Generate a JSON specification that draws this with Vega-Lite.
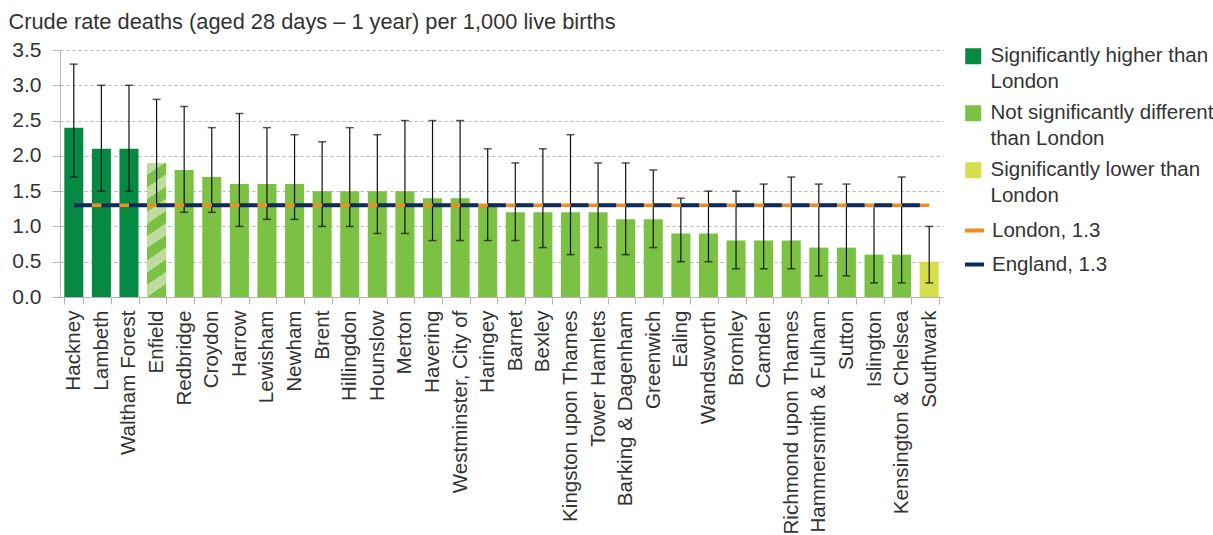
{
  "$schema": "https://vega.github.io/schema/vega-lite/v6.json",
  "width": 883,
  "height": 247,
  "autosize": {"type": "none"},
  "padding": {"left": 60, "top": 50, "right": 270, "bottom": 238},
  "background": "white",
  "config": {
    "font": "Liberation Sans",
    "view": {"stroke": null},
    "style": {"guide-label": {"lineHeight": 25.5}}
  },
  "data": {
    "values": [
      {"borough": "Hackney", "rate": 2.4, "lo": 1.7, "hi": 3.3, "sig": "Significantly higher than London", "hatched": false, "london": 1.3, "england": 1.3},
      {"borough": "Lambeth", "rate": 2.1, "lo": 1.5, "hi": 3.0, "sig": "Significantly higher than London", "hatched": false, "london": 1.3, "england": 1.3},
      {"borough": "Waltham Forest", "rate": 2.1, "lo": 1.5, "hi": 3.0, "sig": "Significantly higher than London", "hatched": false, "london": 1.3, "england": 1.3},
      {"borough": "Enfield", "rate": 1.9, "lo": 1.3, "hi": 2.8, "sig": "Not significantly different than London", "hatched": true, "london": 1.3, "england": 1.3},
      {"borough": "Redbridge", "rate": 1.8, "lo": 1.2, "hi": 2.7, "sig": "Not significantly different than London", "hatched": false, "london": 1.3, "england": 1.3},
      {"borough": "Croydon", "rate": 1.7, "lo": 1.2, "hi": 2.4, "sig": "Not significantly different than London", "hatched": false, "london": 1.3, "england": 1.3},
      {"borough": "Harrow", "rate": 1.6, "lo": 1.0, "hi": 2.6, "sig": "Not significantly different than London", "hatched": false, "london": 1.3, "england": 1.3},
      {"borough": "Lewisham", "rate": 1.6, "lo": 1.1, "hi": 2.4, "sig": "Not significantly different than London", "hatched": false, "london": 1.3, "england": 1.3},
      {"borough": "Newham", "rate": 1.6, "lo": 1.1, "hi": 2.3, "sig": "Not significantly different than London", "hatched": false, "london": 1.3, "england": 1.3},
      {"borough": "Brent", "rate": 1.5, "lo": 1.0, "hi": 2.2, "sig": "Not significantly different than London", "hatched": false, "london": 1.3, "england": 1.3},
      {"borough": "Hillingdon", "rate": 1.5, "lo": 1.0, "hi": 2.4, "sig": "Not significantly different than London", "hatched": false, "london": 1.3, "england": 1.3},
      {"borough": "Hounslow", "rate": 1.5, "lo": 0.9, "hi": 2.3, "sig": "Not significantly different than London", "hatched": false, "london": 1.3, "england": 1.3},
      {"borough": "Merton", "rate": 1.5, "lo": 0.9, "hi": 2.5, "sig": "Not significantly different than London", "hatched": false, "london": 1.3, "england": 1.3},
      {"borough": "Havering", "rate": 1.4, "lo": 0.8, "hi": 2.5, "sig": "Not significantly different than London", "hatched": false, "london": 1.3, "england": 1.3},
      {"borough": "Westminster, City of", "rate": 1.4, "lo": 0.8, "hi": 2.5, "sig": "Not significantly different than London", "hatched": false, "london": 1.3, "england": 1.3},
      {"borough": "Haringey", "rate": 1.3, "lo": 0.8, "hi": 2.1, "sig": "Not significantly different than London", "hatched": false, "london": 1.3, "england": 1.3},
      {"borough": "Barnet", "rate": 1.2, "lo": 0.8, "hi": 1.9, "sig": "Not significantly different than London", "hatched": false, "london": 1.3, "england": 1.3},
      {"borough": "Bexley", "rate": 1.2, "lo": 0.7, "hi": 2.1, "sig": "Not significantly different than London", "hatched": false, "london": 1.3, "england": 1.3},
      {"borough": "Kingston upon Thames", "rate": 1.2, "lo": 0.6, "hi": 2.3, "sig": "Not significantly different than London", "hatched": false, "london": 1.3, "england": 1.3},
      {"borough": "Tower Hamlets", "rate": 1.2, "lo": 0.7, "hi": 1.9, "sig": "Not significantly different than London", "hatched": false, "london": 1.3, "england": 1.3},
      {"borough": "Barking & Dagenham", "rate": 1.1, "lo": 0.6, "hi": 1.9, "sig": "Not significantly different than London", "hatched": false, "london": 1.3, "england": 1.3},
      {"borough": "Greenwich", "rate": 1.1, "lo": 0.7, "hi": 1.8, "sig": "Not significantly different than London", "hatched": false, "london": 1.3, "england": 1.3},
      {"borough": "Ealing", "rate": 0.9, "lo": 0.5, "hi": 1.4, "sig": "Not significantly different than London", "hatched": false, "london": 1.3, "england": 1.3},
      {"borough": "Wandsworth", "rate": 0.9, "lo": 0.5, "hi": 1.5, "sig": "Not significantly different than London", "hatched": false, "london": 1.3, "england": 1.3},
      {"borough": "Bromley", "rate": 0.8, "lo": 0.4, "hi": 1.5, "sig": "Not significantly different than London", "hatched": false, "london": 1.3, "england": 1.3},
      {"borough": "Camden", "rate": 0.8, "lo": 0.4, "hi": 1.6, "sig": "Not significantly different than London", "hatched": false, "london": 1.3, "england": 1.3},
      {"borough": "Richmond upon Thames", "rate": 0.8, "lo": 0.4, "hi": 1.7, "sig": "Not significantly different than London", "hatched": false, "london": 1.3, "england": 1.3},
      {"borough": "Hammersmith & Fulham", "rate": 0.7, "lo": 0.3, "hi": 1.6, "sig": "Not significantly different than London", "hatched": false, "london": 1.3, "england": 1.3},
      {"borough": "Sutton", "rate": 0.7, "lo": 0.3, "hi": 1.6, "sig": "Not significantly different than London", "hatched": false, "london": 1.3, "england": 1.3},
      {"borough": "Islington", "rate": 0.6, "lo": 0.2, "hi": 1.3, "sig": "Not significantly different than London", "hatched": false, "london": 1.3, "england": 1.3},
      {"borough": "Kensington & Chelsea", "rate": 0.6, "lo": 0.2, "hi": 1.7, "sig": "Not significantly different than London", "hatched": false, "london": 1.3, "england": 1.3},
      {"borough": "Southwark", "rate": 0.5, "lo": 0.2, "hi": 1.0, "sig": "Significantly lower than London", "hatched": false, "london": 1.3, "england": 1.3}
    ]
  },
  "encoding": {
    "x": {
      "field": "borough",
      "type": "nominal",
      "sort": null,
      "scale": {"paddingInner": 0.31, "paddingOuter": 0.155},
      "axis": {
        "title": null,
        "labelAngle": -90,
        "labelFontSize": 20.6,
        "labelColor": "#333333",
        "labelPadding": 6,
        "labelLimit": 0,
        "tickBand": "extent",
        "tickSize": 7,
        "tickColor": "#b5b5b5",
        "domainColor": "#b5b5b5",
        "grid": false
      }
    }
  },
  "layer": [
    {
      "mark": {"type": "bar"},
      "encoding": {
        "y": {
          "field": "rate",
          "type": "quantitative",
          "scale": {"domain": [0, 3.5], "nice": false},
          "axis": {
            "title": "Crude rate deaths (aged 28 days – 1 year) per 1,000 live births",
            "titleAngle": 0,
            "titleAlign": "left",
            "titleBaseline": "alphabetic",
            "titleX": -52,
            "titleY": -22,
            "titleFontSize": 21.8,
            "titleFontWeight": "normal",
            "titleColor": "#333333",
            "values": [0, 0.5, 1, 1.5, 2, 2.5, 3, 3.5],
            "tickCount": 8,
            "labelOverlap": false,
            "format": ".1f",
            "labelFontSize": 21,
            "labelColor": "#333333",
            "labelPadding": 11,
            "tickSize": 8,
            "tickColor": "#b5b5b5",
            "domainColor": "#b5b5b5",
            "gridColor": "#b5b5b5",
            "gridDash": [3, 3]
          }
        },
        "fill": {
          "field": "sig",
          "type": "nominal",
          "scale": {
            "domain": ["Significantly higher than London", "Not significantly different than London", "Significantly lower than London"],
            "range": ["#068a43", "#7bc143", "#d6df4b"]
          },
          "legend": {
            "title": null,
            "orient": "none",
            "legendX": 903,
            "legendY": -4,
            "padding": 0,
            "symbolType": "square",
            "symbolSize": 256,
            "symbolStrokeWidth": 0,
            "labelFontSize": 20.5,
            "labelColor": "#333333",
            "labelOffset": 7,
            "labelLimit": 0,
            "rowPadding": 10,
            "labelExpr": "datum.label == 'Significantly higher than London' ? ['Significantly higher than', 'London'] : datum.label == 'Not significantly different than London' ? ['Not significantly different', 'than London'] : ['Significantly lower than', 'London']"
          }
        }
      }
    },
    {
      "transform": [{"filter": "datum.hatched"}],
      "mark": {
        "type": "bar",
        "fill": {
          "gradient": "linear",
          "x1": 0, "y1": 0, "x2": 0.097, "y2": 1,
          "stops": [
            {"offset": 0, "color": "#bddc9e"}, {"offset": 0.09, "color": "#bddc9e"},
            {"offset": 0.09, "color": "#7bc143"}, {"offset": 0.18, "color": "#7bc143"},
            {"offset": 0.18, "color": "#bddc9e"}, {"offset": 0.27, "color": "#bddc9e"},
            {"offset": 0.27, "color": "#7bc143"}, {"offset": 0.36, "color": "#7bc143"},
            {"offset": 0.36, "color": "#bddc9e"}, {"offset": 0.45, "color": "#bddc9e"},
            {"offset": 0.45, "color": "#7bc143"}, {"offset": 0.54, "color": "#7bc143"},
            {"offset": 0.54, "color": "#bddc9e"}, {"offset": 0.63, "color": "#bddc9e"},
            {"offset": 0.63, "color": "#7bc143"}, {"offset": 0.72, "color": "#7bc143"},
            {"offset": 0.72, "color": "#bddc9e"}, {"offset": 0.81, "color": "#bddc9e"},
            {"offset": 0.81, "color": "#7bc143"}, {"offset": 0.90, "color": "#7bc143"},
            {"offset": 0.90, "color": "#bddc9e"}, {"offset": 0.99, "color": "#bddc9e"},
            {"offset": 0.99, "color": "#7bc143"}, {"offset": 1, "color": "#7bc143"}
          ]
        }
      },
      "encoding": {
        "y": {"field": "rate", "type": "quantitative"}
      }
    },
    {
      "mark": {"type": "rule", "color": "#111111", "strokeWidth": 1.2},
      "encoding": {
        "y": {"field": "lo", "type": "quantitative"},
        "y2": {"field": "hi"}
      }
    },
    {
      "mark": {"type": "tick", "orient": "horizontal", "size": 8, "thickness": 1.5, "color": "#111111"},
      "encoding": {
        "y": {"field": "lo", "type": "quantitative"}
      }
    },
    {
      "mark": {"type": "tick", "orient": "horizontal", "size": 8, "thickness": 1.5, "color": "#111111"},
      "encoding": {
        "y": {"field": "hi", "type": "quantitative"}
      }
    },
    {
      "mark": {"type": "line", "strokeWidth": 3.5},
      "encoding": {
        "y": {"field": "london", "type": "quantitative"},
        "stroke": {
          "datum": "London, 1.3",
          "type": "nominal",
          "scale": {"domain": ["London, 1.3", "England, 1.3"], "range": ["#f48a22", "#0d2c5e"]},
          "legend": {
            "title": null,
            "orient": "none",
            "legendX": 903,
            "legendY": 169,
            "padding": 0,
            "symbolType": "stroke",
            "symbolSize": 361,
            "symbolStrokeWidth": 4,
            "labelFontSize": 20.5,
            "labelColor": "#333333",
            "labelOffset": 6,
            "labelLimit": 0,
            "rowPadding": 12
          }
        }
      }
    },
    {
      "mark": {"type": "line", "strokeWidth": 3.8, "strokeDash": [18, 9.6]},
      "encoding": {
        "y": {"field": "england", "type": "quantitative"},
        "stroke": {"datum": "England, 1.3", "type": "nominal"}
      }
    }
  ]
}
